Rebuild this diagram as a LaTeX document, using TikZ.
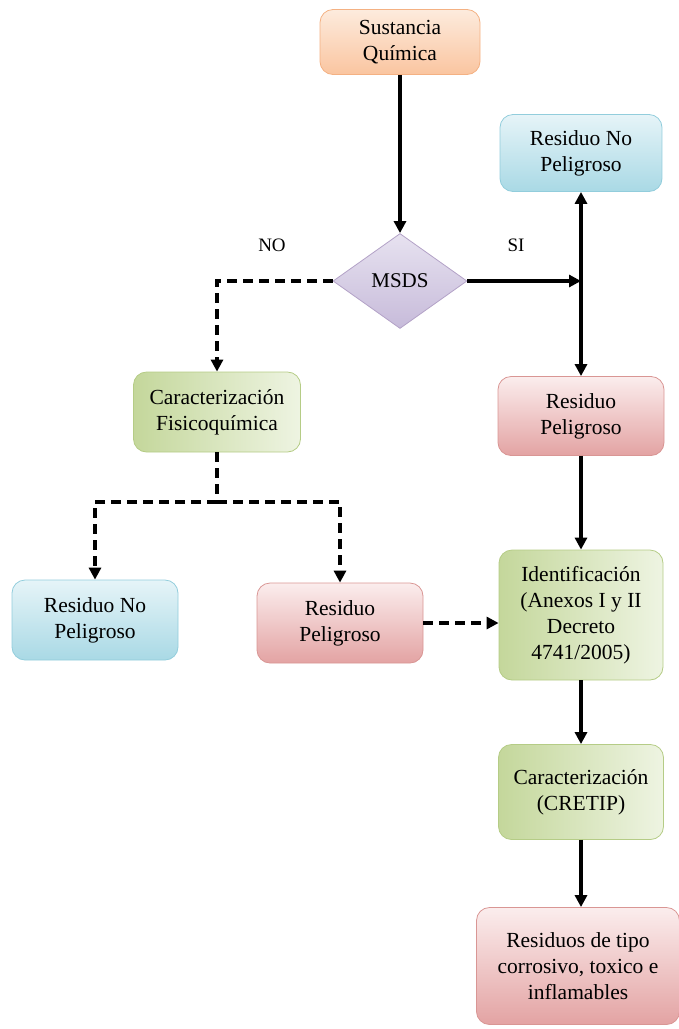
\documentclass[tikz,border=0pt]{standalone}
\usepackage{fontspec}
\setmainfont{Liberation Serif}
\usetikzlibrary{shapes.geometric,arrows.meta}
\definecolor{orB}{HTML}{F4B183}
\definecolor{orT}{HTML}{FDEBDD}
\definecolor{orD}{HTML}{FAC5A0}
\definecolor{blB}{HTML}{92CDDC}
\definecolor{blT}{HTML}{E6F4F8}
\definecolor{blD}{HTML}{A9D9E5}
\definecolor{rdB}{HTML}{D99694}
\definecolor{rdT}{HTML}{FBEDED}
\definecolor{rdD}{HTML}{E3A3A3}
\definecolor{grB}{HTML}{B5CC86}
\definecolor{grL}{HTML}{C4D79B}
\definecolor{grR}{HTML}{EEF4E2}
\definecolor{puB}{HTML}{B3A2C7}
\definecolor{puT}{HTML}{E7E2F0}
\definecolor{puD}{HTML}{C7BBDA}
\tikzset{
  box/.style={rectangle, rounded corners=13pt, draw, line width=0.8pt, align=center,
    inner sep=2pt, font=\fontsize{21.5}{26}\selectfont},
  orbox/.style={box, draw=orB, top color=orT, bottom color=orD},
  blbox/.style={box, draw=blB, top color=blT, bottom color=blD},
  rdbox/.style={box, draw=rdB, top color=rdT, bottom color=rdD},
  grbox/.style={box, draw=grB, left color=grL, right color=grR},
  dec/.style={diamond, draw=puB, line width=0.8pt, top color=puT, bottom color=puD,
    inner sep=0pt, minimum width=134pt, minimum height=95pt, font=\fontsize{21}{25}\selectfont},
  arr/.style={line width=3.6pt, -{Triangle[length=12pt,width=12pt]}},
  barr/.style={line width=4.6pt, -{Triangle[length=12pt,width=12pt]}},
  darr/.style={line width=3.6pt, dash pattern=on 10pt off 6pt, -{Triangle[length=12pt,width=12pt]}},
  dline/.style={line width=3.6pt, dash pattern=on 10pt off 6pt},
  lbl/.style={font=\fontsize{19}{22}\selectfont}
}
\begin{document}
\begin{tikzpicture}[x=1pt,y=-1pt]
\useasboundingbox (0,0) rectangle (679,1029);
\node[orbox, minimum width=160pt, minimum height=65pt] (sq) at (400,42) {Sustancia\\Química};
\node[blbox, minimum width=162pt, minimum height=77pt] (rnp1) at (581,153) {Residuo No\\Peligroso};
\node[dec] (msds) at (400,281) {MSDS};
\node[rdbox, minimum width=166pt, minimum height=79pt] (rp1) at (581,416) {Residuo\\Peligroso};
\node[grbox, minimum width=167pt, minimum height=80pt] (cf) at (217,412) {Caracterización\\Fisicoquímica};
\node[blbox, minimum width=166pt, minimum height=80pt] (rnp2) at (95,620) {Residuo No\\Peligroso};
\node[rdbox, minimum width=166pt, minimum height=80pt] (rp2) at (340,623) {Residuo\\Peligroso};
\node[grbox, minimum width=164pt, minimum height=130pt] (ident) at (581,615) {Identificación\\(Anexos I y II\\Decreto\\4741/2005)};
\node[grbox, minimum width=165pt, minimum height=95pt] (cret) at (581,792) {Caracterización\\(CRETIP)};
\node[rdbox, minimum width=203pt, minimum height=117pt] (res) at (578,966) {Residuos de tipo\\corrosivo, toxico e\\inflamables};
\node[lbl] (no) at (272,245) {NO};
\node[lbl] (si) at (516,245) {SI};
\coordinate (J) at (581,281);
\coordinate (K) at (217,502);
\draw[arr] (sq) -- (msds);
\draw[barr] (msds.east) -- (J);
\draw[arr] (J) -- (rnp1.south);
\draw[arr] (J) -- (rp1.north);
\draw[darr] (msds.west) -| (cf.north);
\draw[dline] (cf.south) -- (K);
\draw[darr] (K) -| (rnp2.north);
\draw[darr] (K) -| (rp2.north);
\draw[darr] (rp2.east) -- (rp2.east -| ident.west);
\draw[barr] (rp1.south) -- (ident.north);
\draw[arr] (ident.south) -- (cret.north);
\draw[arr] (cret.south) -- (cret.south |- res.north);
\end{tikzpicture}
\end{document}
